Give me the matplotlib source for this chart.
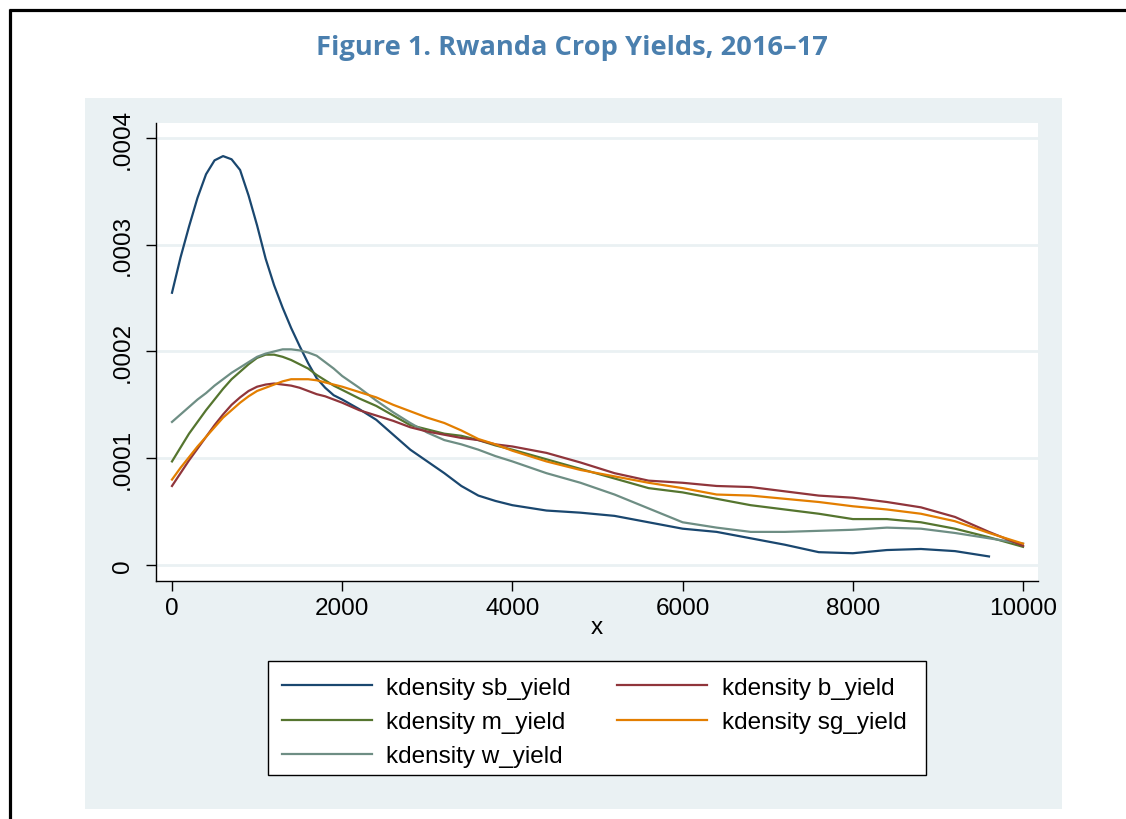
import matplotlib
matplotlib.use("Agg")
import matplotlib.pyplot as plt
from matplotlib.lines import Line2D
from matplotlib.patches import Rectangle

# ---- data ----
x_grid = [0, 100, 200, 300, 400, 500, 600, 700, 800, 900, 1000, 1100, 1200, 1300,
          1400, 1500, 1600, 1700, 1800, 1900, 2000, 2200, 2400,
          2600, 2800, 3000, 3200, 3400, 3600, 3800, 4000, 4400, 4800, 5200, 5600,
          6000, 6400, 6800, 7200, 7600, 8000, 8400, 8800, 9200, 9600, 10000]

sb_yield = [0.000255, 0.000288, 0.000317, 0.000344, 0.000366, 0.000379, 0.000383,
            0.000380, 0.000370, 0.000346, 0.000318, 0.000287, 0.000262, 0.000241,
            0.000222, 0.000205, 0.000189, 0.000175, 0.000166, 0.000159, 0.000155,
            0.000146, 0.000136, 0.000122,
            0.000108, 0.000097, 0.000086, 0.000074, 0.000065, 0.000060, 0.000056,
            0.000051, 0.000049, 0.000046, 0.000040, 0.000034, 0.000031, 0.000025,
            0.000019, 0.000012, 0.000011, 0.000014, 0.000015, 0.000013, 0.000008]

b_yield = [0.000074, 0.000086, 0.000098, 0.000109, 0.000120, 0.000131, 0.000141,
           0.000150, 0.000157, 0.000163, 0.000167, 0.000169, 0.000170, 0.000169,
           0.000168, 0.000166, 0.000163, 0.000160, 0.000158, 0.000155, 0.000152,
           0.000145, 0.000140, 0.000135,
           0.000129, 0.000125, 0.000122, 0.000119, 0.000117, 0.000113, 0.000111,
           0.000105, 0.000096, 0.000086, 0.000079, 0.000077, 0.000074, 0.000073,
           0.000069, 0.000065, 0.000063, 0.000059, 0.000054, 0.000045, 0.000031,
           0.000018]

m_yield = [0.000097, 0.000110, 0.000123, 0.000134, 0.000145, 0.000155, 0.000165,
           0.000174, 0.000181, 0.000188, 0.000194, 0.000197, 0.000197, 0.000195,
           0.000192, 0.000188, 0.000184, 0.000178, 0.000173, 0.000168, 0.000164,
           0.000156, 0.000149, 0.000140,
           0.000131, 0.000127, 0.000123, 0.000121, 0.000117, 0.000112, 0.000108,
           0.000099, 0.000090, 0.000081, 0.000072, 0.000068, 0.000062, 0.000056,
           0.000052, 0.000048, 0.000043, 0.000043, 0.000040, 0.000034, 0.000026,
           0.000017]

sg_yield = [0.000080, 0.000091, 0.000101, 0.000111, 0.000120, 0.000129, 0.000138,
            0.000145, 0.000152, 0.000158, 0.000163, 0.000166, 0.000169, 0.000172,
            0.000174, 0.000174, 0.000174, 0.000173, 0.000171, 0.000169, 0.000167,
            0.000162, 0.000157, 0.000150,
            0.000144, 0.000138, 0.000133, 0.000126, 0.000118, 0.000113, 0.000107,
            0.000097, 0.000089, 0.000083, 0.000077, 0.000072, 0.000066, 0.000065,
            0.000062, 0.000059, 0.000055, 0.000052, 0.000048, 0.000041, 0.000030,
            0.000020]

w_yield = [0.000134, 0.000141, 0.000148, 0.000155, 0.000161, 0.000168, 0.000174,
           0.000180, 0.000185, 0.000190, 0.000195, 0.000198, 0.000200, 0.000202,
           0.000202, 0.000201, 0.000199, 0.000196, 0.000190, 0.000184, 0.000177,
           0.000166, 0.000154, 0.000143,
           0.000133, 0.000124, 0.000117, 0.000113, 0.000108, 0.000102, 0.000097,
           0.000086, 0.000077, 0.000066, 0.000053, 0.000040, 0.000035, 0.000031,
           0.000031, 0.000032, 0.000033, 0.000035, 0.000034, 0.000030, 0.000025,
           0.000020]

x_ticks = [0, 2000, 4000, 6000, 8000, 10000]
y_ticks = [0, 0.0001, 0.0002, 0.0003, 0.0004]
y_tick_labels = ["0", ".0001", ".0002", ".0003", ".0004"]

title = "Figure 1. Rwanda Crop Yields, 2016\u201317"
series = [
    ("kdensity sb_yield", sb_yield, "#1a476f"),
    ("kdensity m_yield", m_yield, "#55752f"),
    ("kdensity w_yield", w_yield, "#6e8e84"),
    ("kdensity b_yield", b_yield, "#90353b"),
    ("kdensity sg_yield", sg_yield, "#e37e00"),
]

# ---- figure ----
W, H = 1126, 820
fig = plt.figure(figsize=(W / 100, H / 100), dpi=100)
fig.patch.set_facecolor("white")

panel_col = "#EAF1F3"
bg = fig.add_axes([85 / W, 1 - 810 / H, (1062 - 85) / W, (810 - 99) / H], zorder=-5)
bg.set_facecolor(panel_col)
bg.set_xticks([])
bg.set_yticks([])
for s in bg.spines.values():
    s.set_visible(False)
# legend box frame
bg.add_patch(Rectangle((268 / W, 1 - 776 / H), (926 - 268) / W, (776 - 662) / H,
                       transform=fig.transFigure, facecolor="white",
                       edgecolor="black", lw=1))

# outer border (left and top)
fig.add_artist(Line2D([9.5 / W, 9.5 / W], [0, 1 - 10 / H], transform=fig.transFigure,
                      color="black", lw=2.3, solid_capstyle="butt"))
fig.add_artist(Line2D([8.5 / W, 1], [1 - 11 / H, 1 - 11 / H], transform=fig.transFigure,
                      color="black", lw=2.3, solid_capstyle="butt"))

fig.text(572 / W, 1 - 48 / H, title, ha="center", va="center",
         fontsize=19.6, fontweight="bold", color="#4a7fae", family="Open Sans")

ax = fig.add_axes([156 / W, 1 - 582 / H, (1038 - 156) / W, (582 - 124) / H], zorder=1)
ax.set_facecolor("white")

font = "Liberation Sans"
fs = 17.5

for label, vals, col in series:
    xs = x_grid[:len(vals)]
    ax.plot(xs, vals, color=col, lw=1.6, label=label, zorder=3,
            solid_joinstyle="round")

ax.set_xlim(-188, 10176)
ax.set_ylim(-0.000015, 0.000414)
ax.set_xticks(x_ticks)
ax.set_xticklabels([str(t) for t in x_ticks], fontsize=fs, family=font)
ax.set_yticks(y_ticks)
ax.set_yticklabels(y_tick_labels, fontsize=fs, family=font, rotation=90, va="center")
ax.tick_params(axis="x", direction="out", length=7.5, width=1, pad=4)
ax.tick_params(axis="y", direction="out", length=7, width=1, pad=9)
ax.grid(axis="y", color=panel_col, lw=2, zorder=1)
ax.grid(axis="x", visible=False)
for s in ["top", "right"]:
    ax.spines[s].set_visible(False)
for s in ["left", "bottom"]:
    ax.spines[s].set_linewidth(1)
    ax.spines[s].set_color("black")

ax.set_xlabel("x", fontsize=fs, family=font, labelpad=-2)

handles, labels = ax.get_legend_handles_labels()
leg = fig.legend(handles, labels, loc="upper left",
                 bbox_to_anchor=(271 / W, 1 - 667 / H),
                 ncol=2, frameon=False,
                 prop={"family": font, "size": fs},
                 handlelength=3.7, handletextpad=0.6, columnspacing=1.89,
                 labelspacing=0.5, borderpad=0.45, borderaxespad=0)
leg.set_zorder(5)

fig.savefig("out.png", dpi=100, facecolor="white")
